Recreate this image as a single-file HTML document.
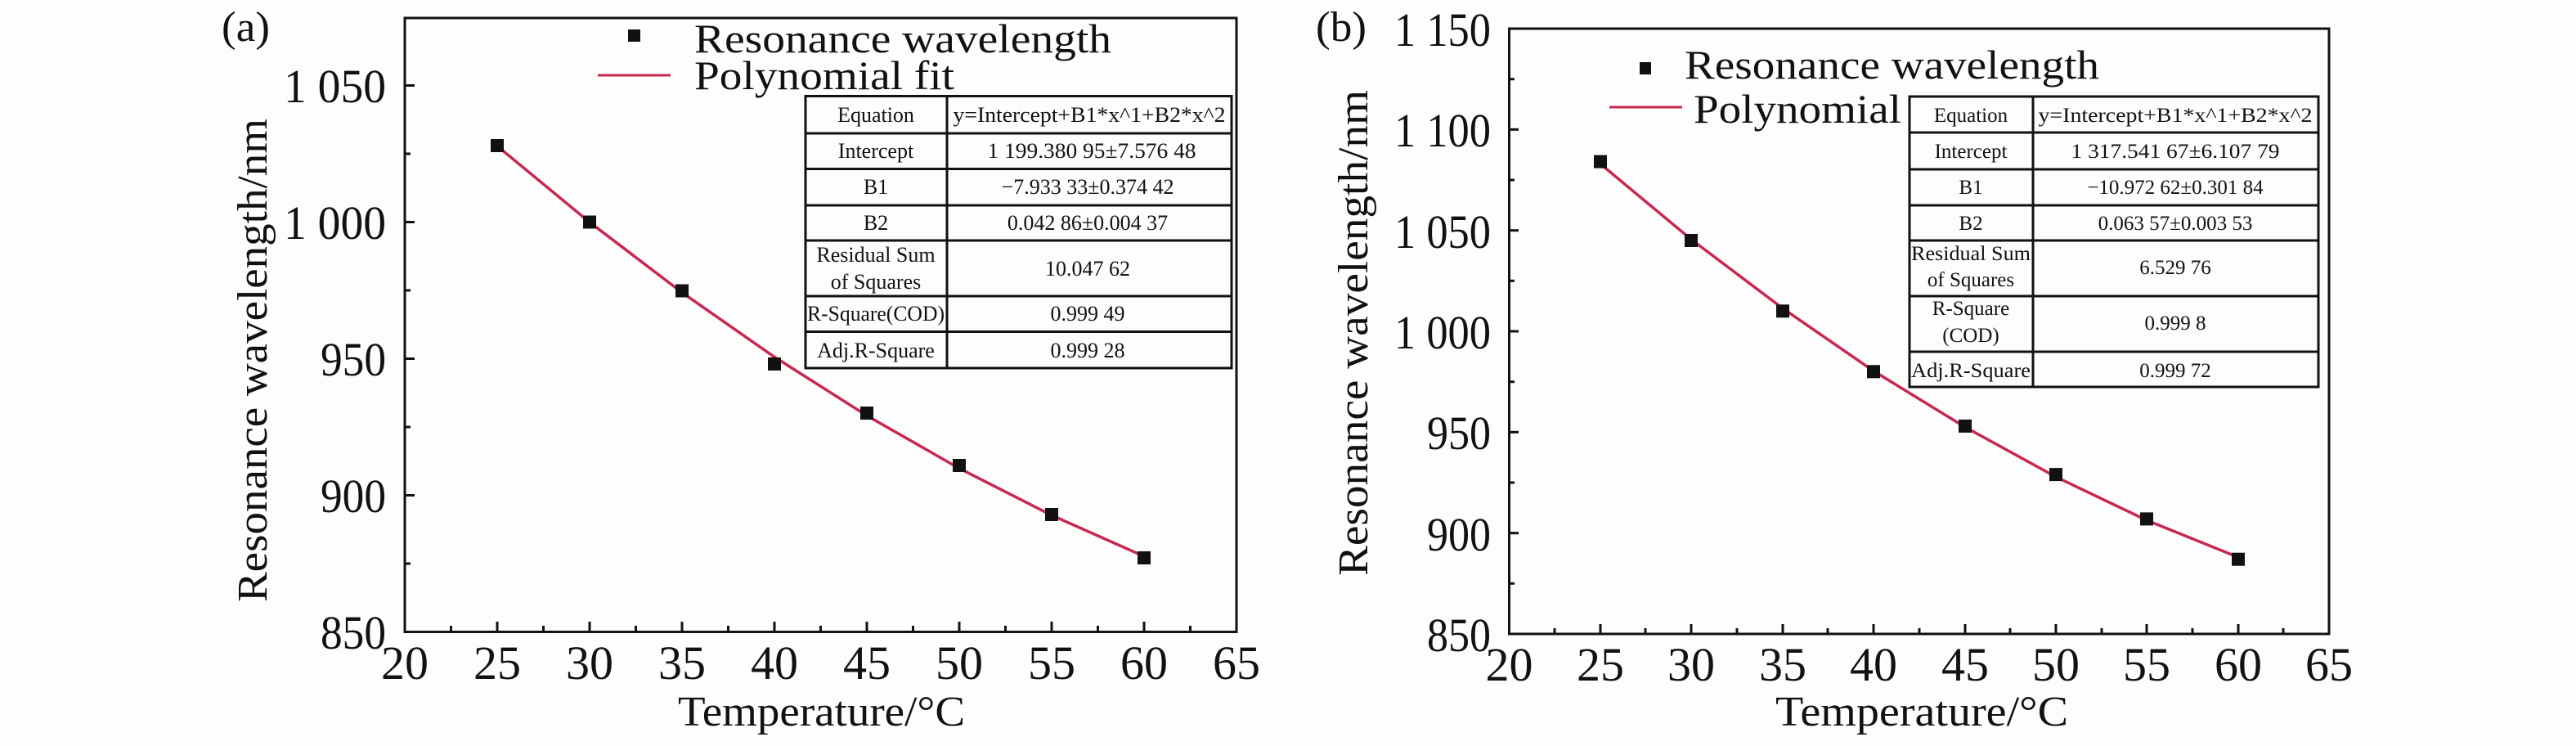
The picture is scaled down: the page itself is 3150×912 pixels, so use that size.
<!DOCTYPE html>
<html><head><meta charset="utf-8"><style>
html,body{margin:0;padding:0;background:#fdfdfd}
svg{display:block}
svg text{font-family:"Liberation Serif","DejaVu Serif",serif !important;fill:#111}
</style></head><body>
<svg width="3150" height="912" viewBox="0 0 3150 912" xmlns="http://www.w3.org/2000/svg" font-family="Liberation Serif, serif">
<rect width="3150" height="912" fill="#fdfdfd"/>

<!-- ===== Panel (a) ===== -->
<text x="271" y="50" font-size="52" textLength="59" lengthAdjust="spacingAndGlyphs">(a)</text>
<rect x="495" y="22" width="1017" height="750.5" fill="none" stroke="#111" stroke-width="3"/>
<g stroke="#111" stroke-width="3">
<line x1="608" y1="772.5" x2="608" y2="760"/><line x1="721" y1="772.5" x2="721" y2="760"/><line x1="834" y1="772.5" x2="834" y2="760"/><line x1="947" y1="772.5" x2="947" y2="760"/><line x1="1060" y1="772.5" x2="1060" y2="760"/><line x1="1173" y1="772.5" x2="1173" y2="760"/><line x1="1286" y1="772.5" x2="1286" y2="760"/><line x1="1399" y1="772.5" x2="1399" y2="760"/>
<line x1="551.5" y1="772.5" x2="551.5" y2="765"/><line x1="664.5" y1="772.5" x2="664.5" y2="765"/><line x1="777.5" y1="772.5" x2="777.5" y2="765"/><line x1="890.5" y1="772.5" x2="890.5" y2="765"/><line x1="1003.5" y1="772.5" x2="1003.5" y2="765"/><line x1="1116.5" y1="772.5" x2="1116.5" y2="765"/><line x1="1229.5" y1="772.5" x2="1229.5" y2="765"/><line x1="1342.5" y1="772.5" x2="1342.5" y2="765"/><line x1="1455.5" y1="772.5" x2="1455.5" y2="765"/>
<line x1="495" y1="104.5" x2="507" y2="104.5"/><line x1="495" y1="271.5" x2="507" y2="271.5"/><line x1="495" y1="438.5" x2="507" y2="438.5"/><line x1="495" y1="605.5" x2="507" y2="605.5"/>
<line x1="495" y1="188" x2="502" y2="188"/><line x1="495" y1="355" x2="502" y2="355"/><line x1="495" y1="522" x2="502" y2="522"/><line x1="495" y1="689" x2="502" y2="689"/>
</g>
<g font-size="58" text-anchor="end" font-family="Liberation Serif, serif">
<text x="472" y="125" textLength="125" lengthAdjust="spacingAndGlyphs">1 050</text>
<text x="472" y="292" textLength="125" lengthAdjust="spacingAndGlyphs">1 000</text>
<text x="472" y="459" textLength="80" lengthAdjust="spacingAndGlyphs">950</text>
<text x="472" y="626" textLength="80" lengthAdjust="spacingAndGlyphs">900</text>
<text x="472" y="793" textLength="80" lengthAdjust="spacingAndGlyphs">850</text>
</g>
<g font-size="58" text-anchor="middle" font-family="Liberation Serif, serif">
<text x="495" y="830">20</text><text x="608" y="830">25</text><text x="721" y="830">30</text><text x="834" y="830">35</text><text x="947" y="830">40</text><text x="1060" y="830">45</text><text x="1173" y="830">50</text><text x="1286" y="830">55</text><text x="1399" y="830">60</text><text x="1512" y="830">65</text>
</g>
<text x="829" y="887" font-size="52" textLength="351" lengthAdjust="spacingAndGlyphs">Temperature/°C</text>
<text transform="translate(326,736) rotate(-90)" font-size="52" textLength="591" lengthAdjust="spacingAndGlyphs">Resonance wavelength/nm</text>
<rect x="768" y="36" width="15" height="15" fill="#111"/>
<text x="849" y="64" font-size="50" textLength="510" lengthAdjust="spacingAndGlyphs">Resonance wavelength</text>
<line x1="731" y1="92" x2="820" y2="92" stroke="#c8284f" stroke-width="3"/>
<text x="849" y="109" font-size="50" textLength="318" lengthAdjust="spacingAndGlyphs">Polynomial fit</text>
<polyline fill="none" stroke="#c8284f" stroke-width="3.5" points="608,178.5 721,271.7 834,357.6 947,436.4 1060,508.1 1173,572.6 1286,629.9 1399,680.1"/>
<g fill="#111">
<rect x="600" y="170" width="16" height="16"/><rect x="713" y="263.5" width="16" height="16"/><rect x="826" y="347.5" width="16" height="16"/><rect x="939" y="437" width="16" height="16"/><rect x="1052" y="497" width="16" height="16"/><rect x="1165" y="561" width="16" height="16"/><rect x="1278" y="621" width="16" height="16"/><rect x="1391" y="674" width="16" height="16"/>
</g>
<!-- table a -->
<rect x="985" y="117.5" width="521" height="332.5" fill="#fdfdfd" stroke="#111" stroke-width="3"/>
<g stroke="#111" stroke-width="3">
<line x1="1158" y1="117.5" x2="1158" y2="450"/>
<line x1="985" y1="163" x2="1506" y2="163"/><line x1="985" y1="206.5" x2="1506" y2="206.5"/><line x1="985" y1="251" x2="1506" y2="251"/><line x1="985" y1="294" x2="1506" y2="294"/><line x1="985" y1="362" x2="1506" y2="362"/><line x1="985" y1="405.5" x2="1506" y2="405.5"/>
</g>
<g font-size="26" text-anchor="middle" font-family="Liberation Serif, serif">
<text x="1071" y="149">Equation</text>
<text x="1332" y="149" textLength="333" lengthAdjust="spacingAndGlyphs">y=Intercept+B1*x^1+B2*x^2</text>
<text x="1071" y="193">Intercept</text>
<text x="1335" y="193" textLength="255" lengthAdjust="spacingAndGlyphs">1 199.380 95±7.576 48</text>
<text x="1071" y="237">B1</text>
<text x="1330" y="237">−7.933 33±0.374 42</text>
<text x="1071" y="281">B2</text>
<text x="1330" y="281">0.042 86±0.004 37</text>
<text x="1071" y="320">Residual Sum</text>
<text x="1071" y="353">of Squares</text>
<text x="1330" y="337">10.047 62</text>
<text x="1071" y="392" textLength="168" lengthAdjust="spacingAndGlyphs">R-Square(COD)</text>
<text x="1330" y="392">0.999 49</text>
<text x="1071" y="437">Adj.R-Square</text>
<text x="1330" y="437">0.999 28</text>
</g>

<!-- ===== Panel (b) ===== -->
<text x="1609" y="50" font-size="52" textLength="62" lengthAdjust="spacingAndGlyphs">(b)</text>
<rect x="1845.5" y="35" width="1002.5" height="740" fill="none" stroke="#111" stroke-width="3"/>
<g stroke="#111" stroke-width="3">
<line x1="1957" y1="775" x2="1957" y2="763"/><line x1="2068" y1="775" x2="2068" y2="763"/><line x1="2180" y1="775" x2="2180" y2="763"/><line x1="2291" y1="775" x2="2291" y2="763"/><line x1="2403" y1="775" x2="2403" y2="763"/><line x1="2514" y1="775" x2="2514" y2="763"/><line x1="2625" y1="775" x2="2625" y2="763"/><line x1="2737" y1="775" x2="2737" y2="763"/>
<line x1="1901" y1="775" x2="1901" y2="768"/><line x1="2012" y1="775" x2="2012" y2="768"/><line x1="2124" y1="775" x2="2124" y2="768"/><line x1="2235" y1="775" x2="2235" y2="768"/><line x1="2347" y1="775" x2="2347" y2="768"/><line x1="2458" y1="775" x2="2458" y2="768"/><line x1="2570" y1="775" x2="2570" y2="768"/><line x1="2681" y1="775" x2="2681" y2="768"/><line x1="2792" y1="775" x2="2792" y2="768"/>
<line x1="1845.5" y1="158.3" x2="1857" y2="158.3"/><line x1="1845.5" y1="281.7" x2="1857" y2="281.7"/><line x1="1845.5" y1="405" x2="1857" y2="405"/><line x1="1845.5" y1="528.3" x2="1857" y2="528.3"/><line x1="1845.5" y1="651.7" x2="1857" y2="651.7"/>
<line x1="1845.5" y1="96.7" x2="1852" y2="96.7"/><line x1="1845.5" y1="220" x2="1852" y2="220"/><line x1="1845.5" y1="343.3" x2="1852" y2="343.3"/><line x1="1845.5" y1="466.7" x2="1852" y2="466.7"/><line x1="1845.5" y1="590" x2="1852" y2="590"/><line x1="1845.5" y1="713.3" x2="1852" y2="713.3"/>
</g>
<g font-size="58" text-anchor="end" font-family="Liberation Serif, serif">
<text x="1823" y="56" textLength="118" lengthAdjust="spacingAndGlyphs">1 150</text>
<text x="1823" y="179" textLength="118" lengthAdjust="spacingAndGlyphs">1 100</text>
<text x="1823" y="303" textLength="118" lengthAdjust="spacingAndGlyphs">1 050</text>
<text x="1823" y="426" textLength="118" lengthAdjust="spacingAndGlyphs">1 000</text>
<text x="1823" y="549" textLength="78" lengthAdjust="spacingAndGlyphs">950</text>
<text x="1823" y="673" textLength="78" lengthAdjust="spacingAndGlyphs">900</text>
<text x="1823" y="796" textLength="78" lengthAdjust="spacingAndGlyphs">850</text>
</g>
<g font-size="58" text-anchor="middle" font-family="Liberation Serif, serif">
<text x="1845.5" y="832">20</text><text x="1957" y="832">25</text><text x="2068" y="832">30</text><text x="2180" y="832">35</text><text x="2291" y="832">40</text><text x="2403" y="832">45</text><text x="2514" y="832">50</text><text x="2625" y="832">55</text><text x="2737" y="832">60</text><text x="2848" y="832">65</text>
</g>
<text x="2171" y="887" font-size="52" textLength="358" lengthAdjust="spacingAndGlyphs">Temperature/°C</text>
<text transform="translate(1672,704) rotate(-90)" font-size="52" textLength="594" lengthAdjust="spacingAndGlyphs">Resonance wavelength/nm</text>
<rect x="2005" y="76" width="14" height="15" fill="#111"/>
<text x="2060" y="96" font-size="50" textLength="507" lengthAdjust="spacingAndGlyphs">Resonance wavelength</text>
<line x1="1968" y1="131" x2="2057" y2="131" stroke="#c8284f" stroke-width="3"/>
<text x="2071" y="150" font-size="50" textLength="254" lengthAdjust="spacingAndGlyphs">Polynomial</text>
<polyline fill="none" stroke="#c8284f" stroke-width="3.5" points="1957,200.4 2068,292.6 2180,377 2291,453.5 2403,522.2 2514,583 2625,636 2737,681.2"/>
<g fill="#111">
<rect x="1949" y="189.6" width="16" height="16"/><rect x="2060" y="286" width="16" height="16"/><rect x="2172" y="372.3" width="16" height="16"/><rect x="2283" y="446.3" width="16" height="16"/><rect x="2395" y="512.9" width="16" height="16"/><rect x="2506" y="572.1" width="16" height="16"/><rect x="2617" y="626.4" width="16" height="16"/><rect x="2729" y="675.7" width="16" height="16"/>
</g>
<!-- table b -->
<rect x="2335" y="118" width="500" height="355" fill="#fdfdfd" stroke="#111" stroke-width="3"/>
<g stroke="#111" stroke-width="3">
<line x1="2486" y1="118" x2="2486" y2="473"/>
<line x1="2335" y1="162" x2="2835" y2="162"/><line x1="2335" y1="207" x2="2835" y2="207"/><line x1="2335" y1="251" x2="2835" y2="251"/><line x1="2335" y1="294" x2="2835" y2="294"/><line x1="2335" y1="362" x2="2835" y2="362"/><line x1="2335" y1="430" x2="2835" y2="430"/>
</g>
<g font-size="25" text-anchor="middle" font-family="Liberation Serif, serif">
<text x="2410" y="149">Equation</text>
<text x="2660" y="149" textLength="335" lengthAdjust="spacingAndGlyphs">y=Intercept+B1*x^1+B2*x^2</text>
<text x="2410" y="193">Intercept</text>
<text x="2660" y="193" textLength="255" lengthAdjust="spacingAndGlyphs">1 317.541 67±6.107 79</text>
<text x="2410" y="237">B1</text>
<text x="2660" y="237">−10.972 62±0.301 84</text>
<text x="2410" y="281">B2</text>
<text x="2660" y="281">0.063 57±0.003 53</text>
<text x="2410" y="318" textLength="146" lengthAdjust="spacingAndGlyphs">Residual Sum</text>
<text x="2410" y="350">of Squares</text>
<text x="2660" y="335">6.529 76</text>
<text x="2410" y="385">R-Square</text>
<text x="2410" y="418">(COD)</text>
<text x="2660" y="403">0.999 8</text>
<text x="2410" y="461" textLength="146" lengthAdjust="spacingAndGlyphs">Adj.R-Square</text>
<text x="2660" y="461">0.999 72</text>
</g>
</svg>
</body></html>
